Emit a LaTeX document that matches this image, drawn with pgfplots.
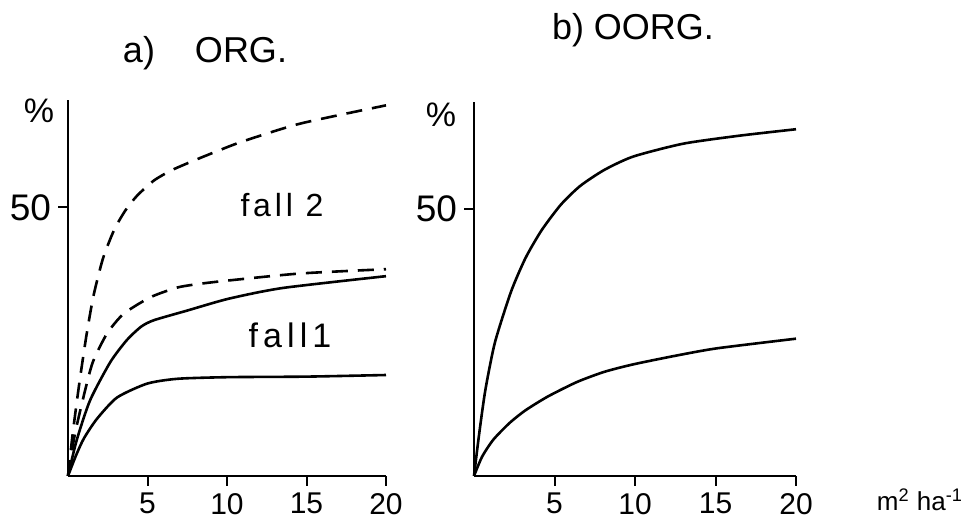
\documentclass[border=0pt]{standalone}
\usepackage{pgfplots}
\pgfplotsset{compat=1.18}
\usepackage{fontspec}
\setmainfont{Liberation Sans}

\pgfplotsset{
  panel/.style={
    scale only axis,
    axis lines=left,
    axis line style={-, line width=1.2pt},
    xmin=0, xmax=20, ymin=0, ymax=70,
    xtick={5,10,15,20},
    ytick={50},
    tick align=outside,
    major tick length=5pt,
    every tick/.style={line width=1pt, black},
    /pgf/number format/assume math mode=true,
    xticklabel style={font=\fontsize{15}{17}\selectfont},
    yticklabel style={font=\fontsize{18.5}{21}\selectfont},
    clip=false,
  },
  curve/.style={black, line width=1.3pt, smooth, tension=0.4, no markers},
  dcurve/.style={curve, dash pattern=on 8pt off 5pt},
}

\begin{document}
\begin{tikzpicture}
\useasboundingbox (0,0) rectangle (484pt,261pt);

% a) ORG.
\begin{axis}[panel, at={(34pt,23pt)}, anchor=south west,
  width=159pt, height=188pt]
% fall 2
\addplot[dcurve] coordinates {(0,0) (0.3,8) (0.7,17) (1.15,26) (1.6,33.5)
  (2.2,40.5) (2.9,45.8) (3.6,49.4) (4.35,52.2) (5.4,55) (6.5,56.9) (7.9,58.7)
  (9.4,60.5) (11,62.3) (14.6,65.6) (20,69)};
\addplot[dcurve] coordinates {(0,0) (0.44,7.9) (1.18,17.2) (1.6,21.5) (2.45,26.5)
  (3.5,30.2) (5.2,33.3) (6.9,35.1) (8.35,35.8) (10.1,36.4) (14.6,37.7) (20,38.5)};
% fall 1
\addplot[curve] coordinates {(0,0) (0.55,6.7) (1.39,14.1) (2.66,21.2) (3.7,25.3)
  (4.6,27.8) (5.4,29) (7.5,30.8) (10.1,33) (13.5,35) (20,37.2)};
\addplot[curve] coordinates {(0,0) (0.5,3.8) (1,7) (1.81,10.6) (3.08,14.6)
  (4.98,17.2) (6.9,18.1) (10.1,18.4) (15,18.5) (20,18.8)};
\end{axis}

% b) OORG.
\begin{axis}[panel, at={(237pt,23pt)}, anchor=south west,
  width=161pt, height=187pt]
\addplot[curve] coordinates {(0,0) (0.3,7.4) (0.7,16) (1.3,25) (2.3,34.5)
  (3.2,40.8) (4.2,46) (5.4,50.8) (6.6,54.3) (8.1,57.3) (9.9,59.8)
  (13,62.2) (16.5,63.7) (20,64.9)};
\addplot[curve] coordinates {(0,0) (0.5,3.6) (1.2,6.8) (2.2,9.9) (3.2,12.3)
  (4.6,14.9) (6.4,17.6) (8.1,19.5) (9.9,20.9) (12.5,22.5) (15.1,23.9) (20,25.7)};
\end{axis}

\node[font=\fontsize{18}{21}\selectfont] at (102.5pt,234.5pt) {a)\hspace{20pt}ORG.};
\node[font=\fontsize{18}{21}\selectfont] at (316.5pt,246pt) {b) OORG.};
\node[font=\fontsize{17}{20}\selectfont] at (19.5pt,205.5pt) {\%};
\node[font=\fontsize{17}{20}\selectfont] at (220.5pt,203.5pt) {\%};
\node[font=\fontsize{16}{19}\selectfont\addfontfeature{LetterSpace=12}] at (141pt,158.5pt) {fall 2};
\node[font=\fontsize{17}{20}\selectfont\addfontfeature{LetterSpace=15}] at (145pt,93.5pt) {fall1};
\node[font=\fontsize{13}{15}\selectfont] at (460pt,11pt) {m\textsuperscript{2} ha\textsuperscript{-1}};
\end{tikzpicture}
\end{document}
